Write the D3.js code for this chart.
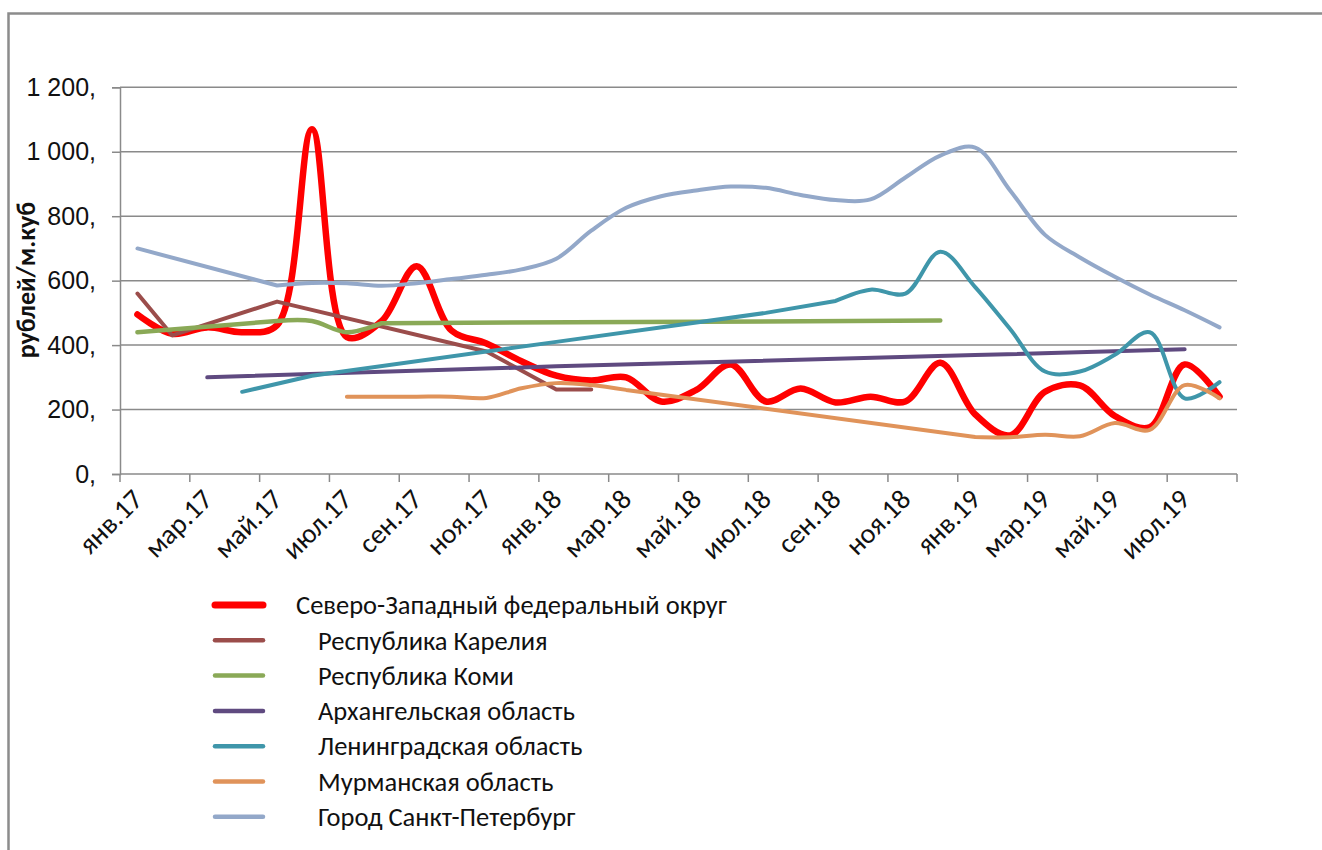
<!DOCTYPE html>
<html>
<head>
<meta charset="utf-8">
<script src="https://cdn.jsdelivr.net/npm/d3@7"></script>
<style>
  html, body { margin: 0; padding: 0; background: #fff; }
  svg { display: block; font-family: Carlito, Calibri, "Open Sans", sans-serif; }
</style>
</head>
<body>
<svg id="chart" width="1322" height="850"></svg>
<script>
// Monthly categories, Jan 2017 – Aug 2019
const months = [
  "янв.17","фев.17","мар.17","апр.17","май.17","июн.17","июл.17","авг.17","сен.17","окт.17","ноя.17","дек.17",
  "янв.18","фев.18","мар.18","апр.18","май.18","июн.18","июл.18","авг.18","сен.18","окт.18","ноя.18","дек.18",
  "янв.19","фев.19","мар.19","апр.19","май.19","июн.19","июл.19","авг.19"
];
// Every second month is labelled on the axis
const xTickLabels = ["янв.17","мар.17","май.17","июл.17","сен.17","ноя.17","янв.18","мар.18",
                     "май.18","июл.18","сен.18","ноя.18","янв.19","мар.19","май.19","июл.19"];
const yTickValues = [0, 200, 400, 600, 800, 1000, 1200];
const yTickLabels = ["0,", "200,", "400,", "600,", "800,", "1 000,", "1 200,"];
const yTitle = "рублей/м.куб";

const seriesNames = [
  "Северо-Западный федеральный округ",
  "Республика Карелия",
  "Республика Коми",
  "Архангельская область",
  "Ленинградская область",
  "Мурманская область",
  "Город Санкт-Петербург"
];

// Prices, rub per cubic metre (null = no observation that month)
const nwfd = [495, 435, 455, 440, 462, 1070, 425, 475, 645, 445, 405, 350,
              305, 290, 300, 225, 260, 340, 225, 265, 222, 240, 225, 345,
              185, 120, 255, 275, 180, 145, 340, 240];
const karelia = [560, 430, null, null, 535, null, null, null, null, null, 380, null,
                 262, 262, null, null, null, null, null, null, null, null, null, null,
                 null, null, null, null, null, null, null, null];
const komi = [440, null, null, null, 475, 475, 440, 468, null, null, null, null,
              null, null, null, null, null, null, null, null, null, null, null, 476,
              null, null, null, null, null, null, null, null];
const arkhangelsk = [null, null, 300, null, null, null, null, null, null, null, null, null,
                     334, null, null, null, null, null, null, null, null, null, null, null,
                     369, null, null, null, null, null, 387, null];
const leningrad = [null, null, null, 255, null, 305, null, null, null, null, null, null,
                   410, null, null, null, null, null, 500, null, 537, 572, 560, 690,
                   580, 450, 318, 318, 370, 440, 235, 285];
const murmansk = [null, null, null, null, null, null, 240, 240, 240, 240, 236, 266,
                  282, 276, 261, null, null, null, null, null, null, null, null, null,
                  115, 114, 122, 117, 158, 137, 276, 235];
const spb = [700, null, null, null, 585, 593, 592, 584, 592, 605, 618, 635,
             668, 755, 826, 862, 880, 892, 888, 866, 850, 852, 920, 988,
             1013, 880, 742, 672, 612, 557, 508, 455];

const seriesValues = [nwfd, karelia, komi, arkhangelsk, leningrad, murmansk, spb];

// Styling
const colors = ["#ff0000", "#9b4d4b", "#8aa957", "#5f4a80", "#3f96aa", "#e0935a", "#93a8c9"];
const lineWidths = [6.5, 4, 4.5, 4, 4, 4, 4];
const legendWidths = [7, 4.5, 4.5, 4.5, 4.5, 4.5, 4.5];
const gridColor = "#8a8a8a";
const textColor = "#111";

const svg = d3.select("#chart");

// Outer frame
svg.append("rect")
  .attr("x", 8.5).attr("y", 13.5)
  .attr("width", 1400).attr("height", 1000)
  .attr("fill", "none").attr("stroke", "#8c8c8c").attr("stroke-width", 2.5);

const plot = { left: 120, right: 1237, top: 87.3, bottom: 474 };

const x = d3.scaleBand().domain(months).range([plot.left, plot.right]).padding(0);
const y = d3.scaleLinear().domain([0, 1200]).range([plot.bottom, plot.top]);
const xc = m => x(m) + x.bandwidth() / 2;

// Horizontal gridlines
svg.append("g").selectAll("line")
  .data(yTickValues.filter(v => v > 0))
  .join("line")
  .attr("x1", plot.left).attr("x2", plot.right)
  .attr("y1", d => y(d)).attr("y2", d => y(d))
  .attr("stroke", gridColor).attr("stroke-width", 1.5);

// Y axis
const yAxis = svg.append("g")
  .attr("transform", `translate(${plot.left},0)`)
  .call(d3.axisLeft(y).tickValues(yTickValues)
        .tickFormat((d, i) => yTickLabels[i]).tickSize(8).tickPadding(16));
yAxis.select(".domain").attr("stroke", gridColor).attr("stroke-width", 1.5);
yAxis.selectAll(".tick line").attr("stroke", gridColor).attr("stroke-width", 1.5);
yAxis.selectAll(".tick text")
  .attr("font-family", null)
  .attr("font-size", 25).attr("fill", textColor);

// X axis line and tick marks at every second month boundary
const tickMonths = months.filter((m, i) => i % 2 === 0);
svg.append("line")
  .attr("x1", plot.left).attr("x2", plot.right)
  .attr("y1", plot.bottom).attr("y2", plot.bottom)
  .attr("stroke", gridColor).attr("stroke-width", 1.5);
const tickXs = tickMonths.map(m => x(m)).concat([plot.right]);
svg.append("g").selectAll("line")
  .data(tickXs)
  .join("line")
  .attr("x1", d => d).attr("x2", d => d)
  .attr("y1", plot.bottom).attr("y2", plot.bottom + 8)
  .attr("stroke", gridColor).attr("stroke-width", 1.5);

// Rotated month labels
svg.append("g").selectAll("text")
  .data(tickMonths)
  .join("text")
  .attr("transform", (m) => `translate(${xc(m) + 7},${plot.bottom + 27}) rotate(-45)`)
  .attr("text-anchor", "end")
  .attr("font-size", 28)
  .attr("fill", textColor)
  .text((m, i) => xTickLabels[i]);

// Y axis title
svg.append("text")
  .attr("transform", `translate(35,280) rotate(-90)`)
  .attr("text-anchor", "middle")
  .attr("font-size", 26).attr("font-weight", "bold")
  .attr("fill", textColor)
  .text(yTitle);

// Smoothed series: consecutive months are joined by a spline,
// months without data are bridged by straight segments
const smooth = d3.line()
  .x(d => xc(d.m))
  .y(d => y(d.v))
  .curve(d3.curveCatmullRom.alpha(0.5));

function seriesPath(vals) {
  const runs = [];
  let cur = [];
  vals.forEach((v, i) => {
    if (v === null) {
      if (cur.length) { runs.push(cur); cur = []; }
    } else {
      cur.push({ m: months[i], v });
    }
  });
  if (cur.length) runs.push(cur);
  let d = "";
  runs.forEach((run, k) => {
    let seg = run.length > 1 ? smooth(run) : `M${xc(run[0].m)},${y(run[0].v)}`;
    if (k > 0) seg = "L" + seg.slice(1);
    d += seg;
  });
  return d;
}

seriesValues.forEach((vals, s) => {
  svg.append("path")
    .attr("d", seriesPath(vals))
    .attr("fill", "none")
    .attr("stroke", colors[s])
    .attr("stroke-width", lineWidths[s])
    .attr("stroke-linejoin", "round")
    .attr("stroke-linecap", "round");
});

// Legend
const legend = svg.append("g");
seriesNames.forEach((name, i) => {
  const ry = 605 + i * 35.3;
  legend.append("line")
    .attr("x1", 215).attr("x2", 263)
    .attr("y1", ry).attr("y2", ry)
    .attr("stroke", colors[i])
    .attr("stroke-width", legendWidths[i])
    .attr("stroke-linecap", "round");
  legend.append("text")
    .attr("x", i === 0 ? 296 : 318)
    .attr("y", ry)
    .attr("dy", "0.35em")
    .attr("font-size", 26.5)
    .attr("fill", textColor)
    .text(name);
});
</script>
</body>
</html>
